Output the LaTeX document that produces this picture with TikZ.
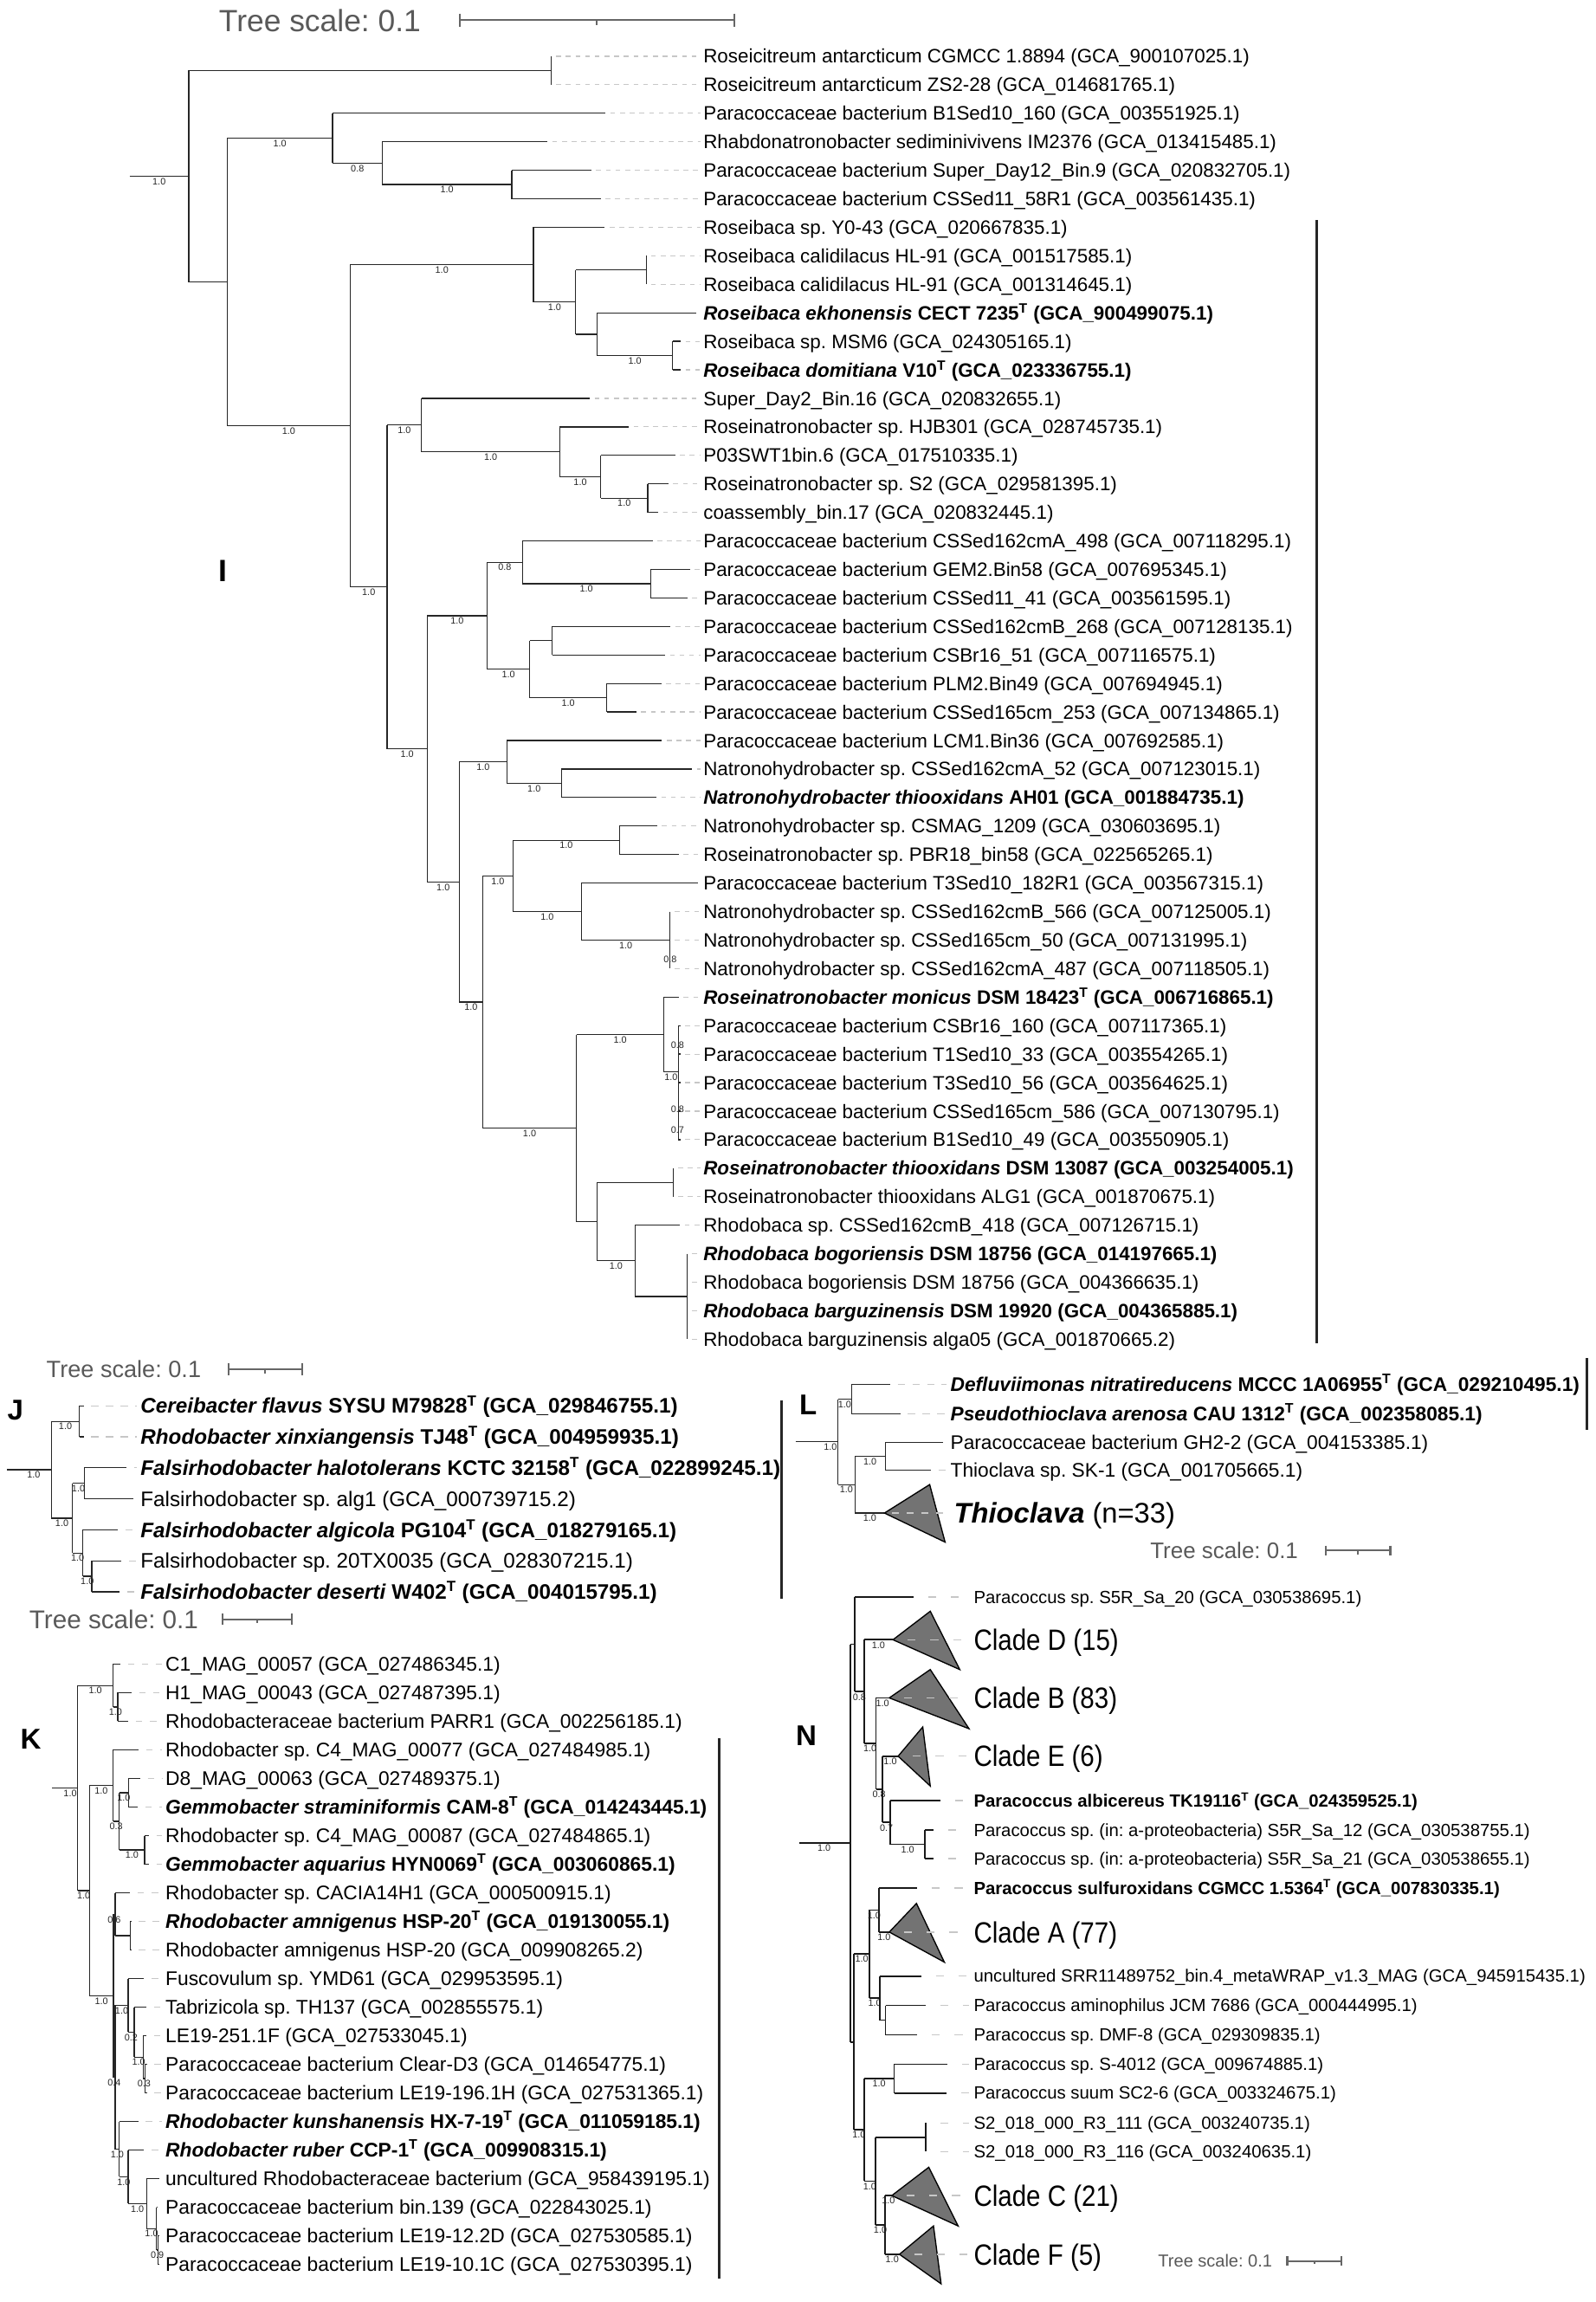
\documentclass[tikz,border=0pt]{standalone}
\usepackage{fontspec}
\setmainfont{Liberation Sans}
\usepackage{graphicx}
\newcounter{nd}
\newcommand\Tsup{\textsuperscript{T}}
\newcommand\fsz[1]{\fontsize{#1}{#1}\selectfont}
\tikzset{
  br/.style={line width=0.75pt, draw=black!85},
  dsh/.style={line width=0.7pt, draw=black!22, dash pattern=on 3.3pt off 3.3pt, dash phase=3.3pt},
  sup/.style={font={\fsz{6.4}}, text=black!85, inner sep=0pt, anchor=center},
  tI/.style={anchor=base west, inner sep=0pt, font={\fsz{13.2}}, yshift=-4.75pt},
  tJ/.style={anchor=base west, inner sep=0pt, font={\fsz{14.3}}, yshift=-5.1pt},
  tK/.style={anchor=base west, inner sep=0pt, font={\fsz{13.45}}, yshift=-4.85pt},
  tL/.style={anchor=base west, inner sep=0pt, font={\fsz{13.4}}, yshift=-4.8pt},
  tN/.style={anchor=base west, inner sep=0pt, font={\fsz{12}}, yshift=-4.3pt},
  tClade/.style={anchor=base west, inner sep=0pt, font={\fsz{20}}, yshift=-7.2pt},
  tThio/.style={anchor=base west, inner sep=0pt, font={\fsz{19.3}}, yshift=-6.9pt},
  letter/.style={anchor=center, inner sep=0pt, font={\fsz{19.5}\bfseries}},
  scl/.style={draw=black!60, line width=1.2pt},
  vbar/.style={draw=black!85, line width=2pt},
  tri/.style={fill=black!55, draw=black, line width=0.8pt, line join=miter}
}
\newcommand\BR[4]{%
  \draw[br] (#1,#3) -- (#2,#3);%
  \def\lab{#4}%
  \ifx\lab\empty\else
    \stepcounter{nd}\node[sup] (s\the\value{nd}) at ({(#1+#2)/2},{#3+3.5}) {#4};%
  \fi}
\newcommand\SUP[3]{\stepcounter{nd}\node[sup] (s\the\value{nd}) at (#1,#2) {#3};}
\newcommand\VL[3]{\draw[br] (#1,#2) -- (#1,#3);}
\newcommand\LEAF[7]{%
  \draw[br] (#1,#3) -- (#2,#3);%
  \draw[dsh] (#2,#3) -- (#4,#3);%
  \stepcounter{nd}\node[#6] (t\the\value{nd}) at (#5,#3) {#7};}
\newcommand\LI[4]{\LEAF{#1}{#2}{{38.3+19.42*#3}}{477}{479}{tI}{#4}}
\newcommand\LJ[4]{\LEAF{#1}{#2}{{957.6+21.1*#3}}{93.5}{95.6}{tJ}{#4}}
\newcommand\LK[4]{\LEAF{#1}{#2}{{1133.5+19.47*#3}}{110.5}{112.6}{tK}{#4}}
\newcommand\LL[4]{\LEAF{#1}{#2}{#3}{645}{647.3}{tL}{#4}}
\newcommand\LN[4]{\LEAF{#1}{#2}{#3}{660}{663.2}{tN}{#4}}
\newcommand\CLADE[7]{%
  \draw[tri] (#1,#2) -- (#3,#4) -- (#5,#6) -- cycle;%
  \draw[dsh] (#1,#2) -- (660,#2);%
  \stepcounter{nd}\node[tClade] (c\the\value{nd}) at (663.2,#2) {\scalebox{0.87}[1]{#7}};}
\newcommand\SCALE[6]{%
  \stepcounter{nd}\node[anchor=base west, inner sep=0pt, text=black!65, font={\fsz{#3}}, yshift={-0.36*#3pt}] (sc\the\value{nd}) at (#1,#2) {Tree scale: 0.1};%
  \draw[scl] (#4,#2) -- (#5,#2);%
  \draw[scl] (#4,{#2-#6}) -- (#4,{#2+#6});%
  \draw[scl] (#5,{#2-#6}) -- (#5,{#2+#6});%
  \draw[scl] ({(#4+#5)/2},#2) -- ({(#4+#5)/2},{#2+#6*0.7});}
\begin{document}
\frenchspacing
\begin{tikzpicture}[x=1pt, y=-1pt]
\fill[white] (0,0) rectangle (1087,1568);
\useasboundingbox (0,0) rectangle (1087,1568);

% ================= scale bars =================
\SCALE{149}{13.8}{20.9}{313}{500}{4.6}
\SCALE{31.5}{932.6}{16}{155.8}{205.7}{4}
\SCALE{19.8}{1102.9}{17.5}{151.6}{198.7}{4}
\SCALE{783.4}{1056.2}{15.3}{902.9}{947.1}{3.5}
\SCALE{788.8}{1540}{11.8}{876.9}{913.8}{3}

% ================= panel letters and bars =================
\node[letter, font={\fsz{21}\bfseries}] (pI) at (151.6,389) {I};
\node[letter] (pJ) at (10.5,960.6) {J};
\node[letter] (pK) at (21,1184.5) {K};
\node[letter] (pL) at (550.5,956.7) {L};
\node[letter] (pN) at (549.3,1182.2) {N};
\draw[vbar] (897,150) -- (897,915);
\draw[vbar] (532.5,953.6) -- (532.5,1088.9);
\draw[vbar] (1081,925) -- (1081,974);
\draw[vbar] (490,1184) -- (490,1552);

% ================= TREE I =================
\draw[br] (88.2,120.05) -- (128.6,120.05); \SUP{108.4}{123.5}{1.0}
\VL{128.6}{48.01}{192.1}
\BR{128.6}{375.5}{48.01}{}
\VL{375.5}{38.3}{57.72}
\BR{128.6}{154.7}{192.1}{}
\VL{154.7}{94.13}{290.06}
\BR{154.7}{226.6}{94.13}{1.0}
\VL{226.6}{77.14}{111.13}
\BR{226.6}{260.4}{111.13}{0.8}
\VL{260.4}{96.56}{125.69}
\BR{260.4}{348.6}{125.69}{1.0}
\VL{348.6}{115.98}{135.4}
\BR{154.7}{238.6}{290.06}{1.0}
\VL{238.6}{180.31}{399.8}
\BR{238.6}{363.4}{180.31}{1.0}
\VL{363.4}{154.82}{205.8}
\BR{363.4}{392.1}{205.8}{1.0}
\VL{392.1}{183.95}{227.65}
\BR{392.1}{440.2}{183.95}{}
\VL{440.2}{174.24}{193.66}
\BR{392.1}{406.9}{227.65}{}
\VL{406.9}{213.08}{242.21}
\BR{406.9}{458.1}{242.21}{1.0}
\VL{458.1}{232.5}{251.92}
\BR{238.6}{263.7}{399.8}{1.0}
\VL{263.7}{289.55}{510.08}
\BR{263.7}{287.2}{289.55}{1.0}
\VL{287.2}{271.34}{307.76}
\BR{287.2}{381.3}{307.76}{1.0}
\VL{381.3}{290.76}{324.75}
\BR{381.3}{409.2}{324.75}{1.0}
\VL{409.2}{310.18}{339.31}
\BR{409.2}{441.2}{339.31}{1.0}
\VL{441.2}{329.6}{349.02}
\BR{263.7}{291}{510.08}{1.0}
\VL{291}{419.42}{600.73}
\BR{291}{331.9}{419.42}{1.0}
\VL{331.9}{383.0}{455.83}
\BR{331.9}{355.8}{383.0}{0.8}
\VL{355.8}{368.44}{397.57}
\BR{355.8}{443.2}{397.57}{1.0}
\VL{443.2}{387.86}{407.28}
\BR{331.9}{360.9}{455.83}{1.0}
\VL{360.9}{436.41}{475.25}
\BR{360.9}{376.2}{436.41}{}
\VL{376.2}{426.7}{446.12}
\BR{360.9}{413.3}{475.25}{1.0}
\VL{413.3}{465.54}{484.96}
\BR{291}{312.8}{600.73}{1.0}
\VL{312.8}{518.95}{682.5}
\BR{312.8}{345.3}{518.95}{1.0}
\VL{345.3}{504.38}{533.51}
\BR{345.3}{382.4}{533.51}{1.0}
\VL{382.4}{523.8}{543.22}
\BR{312.8}{328.9}{682.5}{1.0}
\VL{328.9}{596.63}{768.38}
\BR{328.9}{349.4}{596.63}{1.0}
\VL{349.4}{572.35}{620.9}
\BR{349.4}{422}{572.35}{1.0}
\VL{422}{562.64}{582.06}
\BR{349.4}{396}{620.9}{1.0}
\VL{396}{601.48}{640.32}
\BR{396}{456.5}{640.32}{1.0}
\VL{456.5}{620.9}{659.74}
\SUP{456.5}{653.5}{0.8}
\BR{328.9}{392.6}{768.38}{1.0}
\VL{392.6}{704.66}{832.1}
\BR{392.6}{452.2}{704.66}{1.0}
\VL{452.2}{679.16}{730.15}
\BR{452.2}{462}{730.15}{1.0}
\VL{462}{698.58}{776.26}
\SUP{461.5}{711.6}{0.8}
\SUP{461.5}{755.3}{0.8}
\SUP{461.5}{769.9}{0.7}
\BR{392.6}{406.7}{832.1}{}
\VL{406.7}{805.39}{858.8}
\BR{406.7}{458.6}{805.39}{}
\VL{458.6}{795.68}{815.1}
\BR{406.7}{432.5}{858.8}{1.0}
\VL{432.5}{834.52}{883.07}
\BR{432.5}{468.1}{883.07}{}
\VL{468.1}{853.94}{912.2}

\LI{375.5}{375.5}{0}{Roseicitreum antarcticum CGMCC 1.8894 (GCA\_900107025.1)}
\LI{375.5}{375.5}{1}{Roseicitreum antarcticum ZS2-28 (GCA\_014681765.1)}
\LI{226.6}{412.5}{2}{Paracoccaceae bacterium B1Sed10\_160 (GCA\_003551925.1)}
\LI{260.4}{372.9}{3}{Rhabdonatronobacter sediminivivens IM2376 (GCA\_013415485.1)}
\LI{348.6}{402.8}{4}{Paracoccaceae bacterium Super\_Day12\_Bin.9 (GCA\_020832705.1)}
\LI{348.6}{409.2}{5}{Paracoccaceae bacterium CSSed11\_58R1 (GCA\_003561435.1)}
\LI{363.4}{412}{6}{Roseibaca sp. Y0-43 (GCA\_020667835.1)}
\LI{440.2}{440.2}{7}{Roseibaca calidilacus HL-91 (GCA\_001517585.1)}
\LI{440.2}{440.2}{8}{Roseibaca calidilacus HL-91 (GCA\_001314645.1)}
\LI{406.9}{474}{9}{\textbf{\textit{Roseibaca ekhonensis} CECT 7235\Tsup{} (GCA\_900499075.1)}}
\LI{458.1}{463.7}{10}{Roseibaca sp. MSM6 (GCA\_024305165.1)}
\LI{458.1}{463.7}{11}{\textbf{\textit{Roseibaca domitiana} V10\Tsup{} (GCA\_023336755.1)}}
\LI{287.2}{401.8}{12}{Super\_Day2\_Bin.16 (GCA\_020832655.1)}
\LI{381.3}{428.4}{13}{Roseinatronobacter sp. HJB301 (GCA\_028745735.1)}
\LI{409.2}{459.9}{14}{P03SWT1bin.6 (GCA\_017510335.1)}
\LI{441.2}{455.3}{15}{Roseinatronobacter sp. S2 (GCA\_029581395.1)}
\LI{441.2}{448.4}{16}{coassembly\_bin.17 (GCA\_020832445.1)}
\LI{355.8}{444.5}{17}{Paracoccaceae bacterium CSSed162cmA\_498 (GCA\_007118295.1)}
\LI{443.2}{470.1}{18}{Paracoccaceae bacterium GEM2.Bin58 (GCA\_007695345.1)}
\LI{443.2}{468.3}{19}{Paracoccaceae bacterium CSSed11\_41 (GCA\_003561595.1)}
\LI{376.2}{456.8}{20}{Paracoccaceae bacterium CSSed162cmB\_268 (GCA\_007128135.1)}
\LI{376.2}{453}{21}{Paracoccaceae bacterium CSBr16\_51 (GCA\_007116575.1)}
\LI{413.3}{450.4}{22}{Paracoccaceae bacterium PLM2.Bin49 (GCA\_007694945.1)}
\LI{413.3}{433.5}{23}{Paracoccaceae bacterium CSSed165cm\_253 (GCA\_007134865.1)}
\LI{345.3}{450.9}{24}{Paracoccaceae bacterium LCM1.Bin36 (GCA\_007692585.1)}
\LI{382.4}{471.4}{25}{Natronohydrobacter sp. CSSed162cmA\_52 (GCA\_007123015.1)}
\LI{382.4}{447.1}{26}{\textbf{\textit{Natronohydrobacter thiooxidans} AH01 (GCA\_001884735.1)}}
\LI{422}{447.6}{27}{Natronohydrobacter sp. CSMAG\_1209 (GCA\_030603695.1)}
\LI{422}{462.4}{28}{Roseinatronobacter sp. PBR18\_bin58 (GCA\_022565265.1)}
\LI{396}{475.2}{29}{Paracoccaceae bacterium T3Sed10\_182R1 (GCA\_003567315.1)}
\LI{456.5}{456.5}{30}{Natronohydrobacter sp. CSSed162cmB\_566 (GCA\_007125005.1)}
\LI{456.5}{456.5}{31}{Natronohydrobacter sp. CSSed165cm\_50 (GCA\_007131995.1)}
\LI{456.5}{456.5}{32}{Natronohydrobacter sp. CSSed162cmA\_487 (GCA\_007118505.1)}
\LI{452.2}{462.4}{33}{\textbf{\textit{Roseinatronobacter monicus} DSM 18423\Tsup{} (GCA\_006716865.1)}}
\LI{462}{463.5}{34}{Paracoccaceae bacterium CSBr16\_160 (GCA\_007117365.1)}
\LI{462}{463.5}{35}{Paracoccaceae bacterium T1Sed10\_33 (GCA\_003554265.1)}
\LI{462}{463.5}{36}{Paracoccaceae bacterium T3Sed10\_56 (GCA\_003564625.1)}
\LI{462}{463.5}{37}{Paracoccaceae bacterium CSSed165cm\_586 (GCA\_007130795.1)}
\LI{462}{463.5}{38}{Paracoccaceae bacterium B1Sed10\_49 (GCA\_003550905.1)}
\LI{458.6}{458.6}{39}{\textbf{\textit{Roseinatronobacter thiooxidans} DSM 13087 (GCA\_003254005.1)}}
\LI{458.6}{458.6}{40}{Roseinatronobacter thiooxidans ALG1 (GCA\_001870675.1)}
\LI{432.5}{463.2}{41}{Rhodobaca sp. CSSed162cmB\_418 (GCA\_007126715.1)}
\LI{468.1}{468.1}{42}{\textbf{\textit{Rhodobaca bogoriensis} DSM 18756 (GCA\_014197665.1)}}
\LI{468.1}{468.1}{43}{Rhodobaca bogoriensis DSM 18756 (GCA\_004366635.1)}
\LI{468.1}{468.1}{44}{\textbf{\textit{Rhodobaca barguzinensis} DSM 19920 (GCA\_004365885.1)}}
\LI{468.1}{468.1}{45}{Rhodobaca barguzinensis alga05 (GCA\_001870665.2)}

% ================= TREE J =================
\begin{scope}[dsh/.style={line width=0.7pt, draw=black!22, dash pattern=on 5pt off 5pt, dash phase=5pt}]
\draw[br] (4.7,1001.1) -- (35,1001.1); \SUP{22.9}{1004.6}{1.0}
\VL{35}{968.15}{1034.1}
\BR{35}{54.1}{968.15}{1.0}
\VL{54.1}{957.6}{978.7}
\BR{35}{49.4}{1034.1}{1.0}
\VL{49.4}{1010.35}{1057.8}
\BR{49.4}{57.4}{1010.35}{1.0}
\VL{57.4}{999.8}{1020.9}
\BR{49.4}{56.4}{1057.8}{1.0}
\VL{56.4}{1042.0}{1073.65}
\BR{56.4}{62.5}{1073.65}{1.0}
\VL{62.5}{1063.1}{1084.2}
\LJ{54.1}{57.1}{0}{\textbf{\textit{Cereibacter flavus} SYSU M79828\Tsup{} (GCA\_029846755.1)}}
\LJ{54.1}{57.1}{1}{\textbf{\textit{Rhodobacter xinxiangensis} TJ48\Tsup{} (GCA\_004959935.1)}}
\LJ{57.4}{86.3}{2}{\textbf{\textit{Falsirhodobacter halotolerans} KCTC 32158\Tsup{} (GCA\_022899245.1)}}
\LJ{57.4}{90.9}{3}{Falsirhodobacter sp. alg1 (GCA\_000739715.2)}
\LJ{56.4}{80.5}{4}{\textbf{\textit{Falsirhodobacter algicola} PG104\Tsup{} (GCA\_018279165.1)}}
\LJ{62.5}{82.8}{5}{Falsirhodobacter sp. 20TX0035 (GCA\_028307215.1)}
\LJ{62.5}{81.6}{6}{\textbf{\textit{Falsirhodobacter deserti} W402\Tsup{} (GCA\_004015795.1)}}
\end{scope}

% ================= TREE K =================
\begin{scope}[dsh/.style={line width=0.7pt, draw=black!22, dash pattern=on 4.5pt off 5pt, dash phase=4.5pt}]
\draw[br] (35.5,1218) -- (53,1218); \SUP{47.8}{1221.5}{1.0}
\VL{53}{1148.1}{1287.85}
\BR{53}{77}{1148.1}{1.0}
\VL{77}{1133.5}{1162.7}
\BR{77}{80.3}{1162.7}{1.0}
\VL{80.3}{1152.97}{1172.44}
\BR{53}{61}{1287.85}{1.0}
\VL{61}{1216.3}{1359.4}
\BR{61}{77}{1216.3}{1.0}
\VL{77}{1191.91}{1240.6}
\BR{77}{81.2}{1240.6}{0.3}
\VL{81.2}{1221.1}{1260.05}
\BR{81.2}{87.5}{1221.1}{1.0}
\VL{87.5}{1211.38}{1230.85}
\BR{81.2}{98.5}{1260.05}{1.0}
\VL{98.5}{1250.32}{1269.79}
\BR{61}{77.2}{1359.4}{1.0}
\VL{77.2}{1303.9}{1414.9}
\BR{77.2}{78.5}{1303.9}{0.6}
\VL{78.5}{1289.26}{1318.5}
\BR{78.5}{88.7}{1318.5}{}
\VL{88.7}{1308.73}{1328.2}
\BR{77.2}{78.5}{1414.9}{0.4}
\VL{78.5}{1365.9}{1463.9}
\BR{78.5}{87.3}{1365.9}{1.0}
\VL{87.3}{1347.67}{1384.2}
\BR{87.3}{91.4}{1384.2}{0.2}
\VL{91.4}{1367.14}{1401.2}
\BR{91.4}{97.5}{1401.2}{1.0}
\VL{97.5}{1386.61}{1415.8}
\BR{97.5}{98.8}{1415.8}{0.3}
\VL{98.8}{1406.08}{1425.55}
\BR{78.5}{81.2}{1463.9}{1.0}
\VL{81.2}{1445.02}{1482.7}
\BR{81.2}{87.3}{1482.7}{1.0}
\VL{87.3}{1464.49}{1501}
\BR{87.3}{99.9}{1501}{1.0}
\VL{99.9}{1483.96}{1518}
\BR{99.9}{106.6}{1518}{1.0}
\VL{106.6}{1503.43}{1532.6}
\BR{106.6}{107.6}{1532.6}{0.9}
\VL{107.6}{1522.9}{1542.37}
\LK{77}{82.1}{0}{C1\_MAG\_00057 (GCA\_027486345.1)}
\LK{80.3}{89.8}{1}{H1\_MAG\_00043 (GCA\_027487395.1)}
\LK{80.3}{87.5}{2}{Rhodobacteraceae bacterium PARR1 (GCA\_002256185.1)}
\LK{77}{94.4}{3}{Rhodobacter sp. C4\_MAG\_00077 (GCA\_027484985.1)}
\LK{87.5}{95.6}{4}{D8\_MAG\_00063 (GCA\_027489375.1)}
\LK{87.5}{94}{5}{\textbf{\textit{Gemmobacter straminiformis} CAM-8\Tsup{} (GCA\_014243445.1)}}
\LK{98.5}{101.5}{6}{Rhodobacter sp. C4\_MAG\_00087 (GCA\_027484865.1)}
\LK{98.5}{101.5}{7}{\textbf{\textit{Gemmobacter aquarius} HYN0069\Tsup{} (GCA\_003060865.1)}}
\LK{78.5}{88.7}{8}{Rhodobacter sp. CACIA14H1 (GCA\_000500915.1)}
\LK{88.7}{89.5}{9}{\textbf{\textit{Rhodobacter amnigenus} HSP-20\Tsup{} (GCA\_019130055.1)}}
\LK{88.7}{89.5}{10}{Rhodobacter amnigenus HSP-20 (GCA\_009908265.2)}
\LK{87.3}{98.2}{11}{Fuscovulum sp. YMD61 (GCA\_029953595.1)}
\LK{91.4}{99.9}{12}{Tabrizicola sp. TH137 (GCA\_002855575.1)}
\LK{97.5}{99.9}{13}{LE19-251.1F (GCA\_027533045.1)}
\LK{98.8}{100}{14}{Paracoccaceae bacterium Clear-D3 (GCA\_014654775.1)}
\LK{98.8}{100}{15}{Paracoccaceae bacterium LE19-196.1H (GCA\_027531365.1)}
\LK{81.2}{94.1}{16}{\textbf{\textit{Rhodobacter kunshanensis} HX-7-19\Tsup{} (GCA\_011059185.1)}}
\LK{87.3}{98.2}{17}{\textbf{\textit{Rhodobacter ruber} CCP-1\Tsup{} (GCA\_009908315.1)}}
\LK{99.9}{108.3}{18}{uncultured Rhodobacteraceae bacterium (GCA\_958439195.1)}
\LK{106.6}{107.6}{19}{Paracoccaceae bacterium bin.139 (GCA\_022843025.1)}
\LK{107.6}{108.5}{20}{Paracoccaceae bacterium LE19-12.2D (GCA\_027530585.1)}
\LK{107.6}{108.5}{21}{Paracoccaceae bacterium LE19-10.1C (GCA\_027530395.1)}
\end{scope}

% ================= TREE L =================
\begin{scope}[dsh/.style={line width=0.7pt, draw=black!22, dash pattern=on 5pt off 5pt, dash phase=5pt}]
\draw[br] (541.9,982.1) -- (570.8,982.1); \SUP{565.6}{985.8}{1.0}
\VL{570.8}{953.05}{1011.2}
\BR{570.8}{580.1}{953.05}{1.0}
\VL{580.1}{943.1}{963}
\BR{570.8}{582.4}{1011.2}{1.0}
\VL{582.4}{991.85}{1030.6}
\BR{582.4}{603}{991.85}{1.0}
\VL{603}{982.3}{1001.4}
\BR{582.4}{602.5}{1030.6}{1.0}
\draw[tri] (602.5,1030.6) -- (633.3,1011.2) -- (643.8,1050.4) -- cycle;
\draw[dsh] (602.5,1030.6) -- (645,1030.6);
\node[tThio] (thio) at (649.6,1030.6) {\textbf{\textit{Thioclava}} (n=33)};
\LL{580.1}{606.5}{943.1}{\textbf{\textit{Defluviimonas nitratireducens} MCCC 1A06955\Tsup{} (GCA\_029210495.1)}}
\LL{580.1}{613.4}{963}{\textbf{\textit{Pseudothioclava arenosa} CAU 1312\Tsup{} (GCA\_002358085.1)}}
\LL{603}{642.6}{982.3}{Paracoccaceae bacterium GH2-2 (GCA\_004153385.1)}
\LL{603}{634.4}{1001.4}{Thioclava sp. SK-1 (GCA\_001705665.1)}
\end{scope}

% ================= TREE N =================
\begin{scope}[br/.style={line width=1.05pt, draw=black!90},
  dsh/.style={line width=0.8pt, draw=black!22, dash pattern=on 5.5pt off 10pt, dash phase=5.5pt}]
\draw[br] (544.2,1255.4) -- (579.1,1255.4); \SUP{561.4}{1259}{1.0}
\VL{579.1}{1120}{1390.85}
\BR{579.1}{582.4}{1120}{}
\VL{582.4}{1087.7}{1152.3}
\BR{582.4}{588.5}{1152.3}{0.8}
\VL{588.5}{1116.9}{1187.65}
\BR{588.5}{608.3}{1116.9}{1.0}
\BR{588.5}{596.7}{1187.65}{1.0}
\VL{596.7}{1156.5}{1218.8}
\BR{596.7}{605.8}{1156.5}{1.0}
\BR{596.7}{601.1}{1218.8}{0.8}
\VL{601.1}{1196.2}{1241.4}
\BR{601.1}{611.8}{1196.2}{1.0}
\BR{601.1}{606.5}{1241.4}{0.7}
\VL{606.5}{1226.5}{1256.25}
\BR{606.5}{630.2}{1256.25}{1.0}
\VL{630.2}{1246.5}{1266}
\BR{579.1}{581.8}{1390.85}{}
\VL{581.8}{1331}{1450.7}
\BR{581.8}{592.3}{1331}{1.0}
\VL{592.3}{1301}{1361}
\BR{592.3}{598.6}{1301}{1.0}
\VL{598.6}{1286}{1316}
\BR{598.6}{605.8}{1316}{1.0}
\BR{592.3}{599.4}{1361}{1.0}
\VL{599.4}{1346}{1376}
\BR{599.4}{603.2}{1376}{}
\VL{603.2}{1366}{1386}
\BR{581.8}{588.5}{1450.7}{1.0}
\VL{588.5}{1415.8}{1485.65}
\BR{588.5}{609.1}{1415.8}{1.0}
\VL{609.1}{1406}{1425.6}
\BR{588.5}{596.5}{1485.65}{1.0}
\VL{596.5}{1455.8}{1515.5}
\BR{596.5}{630.6}{1455.8}{}
\VL{630.6}{1446}{1465.6}
\BR{596.5}{602.8}{1515.5}{1.0}
\VL{602.8}{1495.5}{1535.5}
\BR{602.8}{607.5}{1495.5}{1.0}
\BR{602.8}{612.7}{1535.5}{1.0}

\CLADE{608.3}{1116.9}{633.7}{1097.5}{653.8}{1137.2}{Clade D (15)}
\CLADE{605.8}{1156.5}{633.7}{1137.2}{660.1}{1177.5}{Clade B (83)}
\CLADE{611.8}{1196.2}{628.6}{1176.3}{633.7}{1216.5}{Clade E (6)}
\CLADE{605.8}{1316}{624.3}{1296.5}{643.3}{1336.5}{Clade A (77)}
\CLADE{607.5}{1495.5}{632.7}{1476.2}{652.7}{1516.2}{Clade C (21)}
\CLADE{612.7}{1535.5}{635.9}{1516.2}{641.1}{1555.6}{Clade F (5)}

\LN{582.4}{622.1}{1087.7}{Paracoccus sp. S5R\_Sa\_20 (GCA\_030538695.1)}
\LN{606.5}{640.7}{1226.5}{\textbf{Paracoccus albicereus TK19116\Tsup{} (GCA\_024359525.1)}}
\LN{630.2}{635.9}{1246.5}{Paracoccus sp. (in: a-proteobacteria) S5R\_Sa\_12 (GCA\_030538755.1)}
\LN{630.2}{635.9}{1266}{Paracoccus sp. (in: a-proteobacteria) S5R\_Sa\_21 (GCA\_030538655.1)}
\LN{598.6}{624.7}{1286}{\textbf{Paracoccus sulfuroxidans CGMCC 1.5364\Tsup{} (GCA\_007830335.1)}}
\LN{599.4}{627.5}{1346}{uncultured SRR11489752\_bin.4\_metaWRAP\_v1.3\_MAG (GCA\_945915435.1)}
\LN{603.2}{630.6}{1366}{Paracoccus aminophilus JCM 7686 (GCA\_000444995.1)}
\LN{603.2}{624.7}{1386}{Paracoccus sp. DMF-8 (GCA\_029309835.1)}
\LN{609.1}{645.4}{1406}{Paracoccus sp. S-4012 (GCA\_009674885.1)}
\LN{609.1}{645}{1425.6}{Paracoccus suum SC2-6 (GCA\_003324675.1)}
\LN{630.6}{630.6}{1446}{S2\_018\_000\_R3\_111 (GCA\_003240735.1)}
\LN{630.6}{630.6}{1465.6}{S2\_018\_000\_R3\_116 (GCA\_003240635.1)}
\end{scope}
\end{tikzpicture}
\end{document}
